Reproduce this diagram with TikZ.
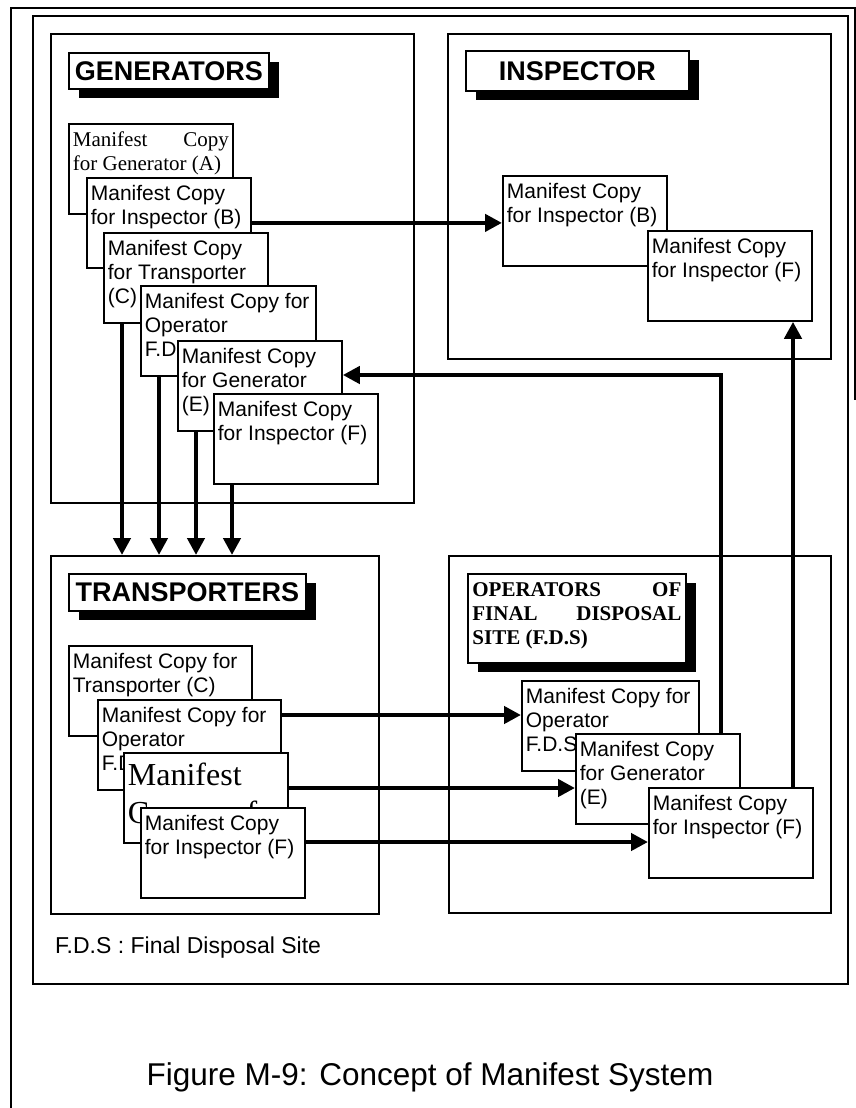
\documentclass[tikz,border=0pt]{standalone}
\usepackage{fontspec}
\setmainfont{Liberation Sans}
\newfontfamily\timesfont{Liberation Serif}
\usepackage{tikz}
\usetikzlibrary{arrows.meta,positioning,shadows}

\newcommand{\sheet}[2][156pt]{\parbox[c][78pt][t]{#1}{\raggedright\strut#2}}

\begin{document}
\begin{tikzpicture}[x=1pt, y=-1pt,
    party/.style={draw, line width=1.8pt, anchor=north west, inner sep=0pt},
    heading/.style={draw, fill=white, line width=1.8pt, anchor=north west, inner sep=0pt,
        general shadow={fill=black, shadow xshift=10pt, shadow yshift=-9pt},
        font=\bfseries\fontsize{27}{30}\selectfont},
    sheetbox/.style={draw, fill=white, line width=1.8pt, anchor=north west,
        inner xsep=4pt, inner ysep=6pt, font=\fontsize{21}{24}\selectfont},
    flow/.style={line width=4.5pt, -{Triangle[length=17pt, width=17pt]}}
]
    \useasboundingbox (0,0) rectangle (856,1108);

    % frames
    \draw[line width=1.6pt] (11,1108) -- (11,8) -- (855,8) -- (855,400);
    \draw[line width=1.8pt] (33,16) rectangle (848,984);

    % the four parties
    \node[party, minimum width=363pt, minimum height=469pt] (gen) at (50,33) {};
    \node[party, minimum width=383pt, minimum height=325pt] (insp) at (447,33) {};
    \node[party, minimum width=328pt, minimum height=358pt] (trans) at (50,555) {};
    \node[party, minimum width=382pt, minimum height=357pt] (oper) at (448,555) {};

    \node[heading, minimum width=200pt, minimum height=36pt] (genhead) at (68,52) {GENERATORS};
    \node[heading, minimum width=223pt, minimum height=40pt] (insphead) at (465,50) {INSPECTOR};
    \node[heading, minimum width=237pt, minimum height=37pt] (transhead) at (68,573) {TRANSPORTERS};
    \node[heading, inner xsep=4.5pt, inner ysep=5.5pt, font=\timesfont\bfseries\fontsize{21}{24}\selectfont] (operhead) at (467,573)
        {\parbox[c][78pt][t]{209pt}{\strut OPERATORS\hfill OF\\FINAL\hfill DISPOSAL\\SITE (F.D.S)}};

    % generators
    \node[sheetbox, font=\timesfont\fontsize{21}{24}\selectfont] (genA) at (68,123) {\sheet{Manifest\hfill Copy\\for Generator (A)}};
    \node[sheetbox] (genB) at (86,177) {\sheet{Manifest Copy\\for Inspector (B)}};
    \node[sheetbox] (genC) at (103,232) {\sheet{Manifest Copy\\for Transporter\\(C)}};
    \node[sheetbox] (genD) at (140,285) {\sheet[167pt]{Manifest Copy for\\Operator\\F.D.S (D)}};
    \node[sheetbox] (genE) at (177,340) {\sheet{Manifest Copy\\for Generator\\(E)}};
    \node[sheetbox] (genF) at (213,393) {\sheet{Manifest Copy\\for Inspector (F)}};

    % inspector
    \node[sheetbox] (inspB) at (502,175) {\sheet{Manifest Copy\\for Inspector (B)}};
    \node[sheetbox] (inspF) at (647,230) {\sheet{Manifest Copy\\for Inspector (F)}};

    % transporters
    \node[sheetbox] (transC) at (68,645) {\sheet[175pt]{Manifest Copy for\\Transporter (C)}};
    \node[sheetbox] (transD) at (97,699) {\sheet[175pt]{Manifest Copy for\\Operator\\F.D.S (D)}};
    \node[sheetbox, font=\timesfont\fontsize{32}{38}\selectfont] (transE) at (123,752) {\sheet{Manifest\\Copy\hfill for}};
    \node[sheetbox] (transF) at (140,807) {\sheet[156pt]{Manifest Copy\\for Inspector (F)}};

    % operators of final disposal site
    \node[sheetbox] (operD) at (521,680) {\sheet[169pt]{Manifest Copy for\\Operator\\F.D.S (D)}};
    \node[sheetbox] (operE) at (575,733) {\sheet{Manifest Copy\\for Generator\\(E)}};
    \node[sheetbox] (operF) at (648,787) {\sheet{Manifest Copy\\for Inspector (F)}};

    % flows
    \draw[flow] (genB.east) -- (genB.east -| inspB.west);
    \foreach \g in {C,D,E,F} {
        \coordinate (down\g) at ([xshift=19pt]gen\g.south west);
        \draw[flow] (down\g) -- (down\g |- trans.north);
    }
    \coordinate (toD) at ([yshift=-16pt]transD.north east);
    \coordinate (toE) at ([yshift=-36pt]transE.north east);
    \coordinate (toF) at ([yshift=-35pt]transF.north east);
    \draw[flow] (toD) -- (toD -| operD.west);
    \draw[flow] (toE) -- (toE -| operE.west);
    \draw[flow] (toF) -- (toF -| operF.west);

    \coordinate (backE) at ([xshift=146pt]operE.north west);
    \coordinate (intoE) at ([yshift=-35pt]genE.north east);
    \draw[flow] (backE) |- (intoE);
    \coordinate (upF) at ([xshift=145pt]operF.north west);
    \draw[flow] (upF) -- (upF |- inspF.south);

    \node[anchor=west, inner sep=0pt, font=\fontsize{23}{26}\selectfont] (fdsnote) at (55,948) {F.D.S : Final Disposal Site};
    \node[inner sep=0pt, font=\fontsize{31.5}{36}\selectfont] (caption) at (430,1077) {Figure M-9: Concept of Manifest System};
\end{tikzpicture}
\end{document}
